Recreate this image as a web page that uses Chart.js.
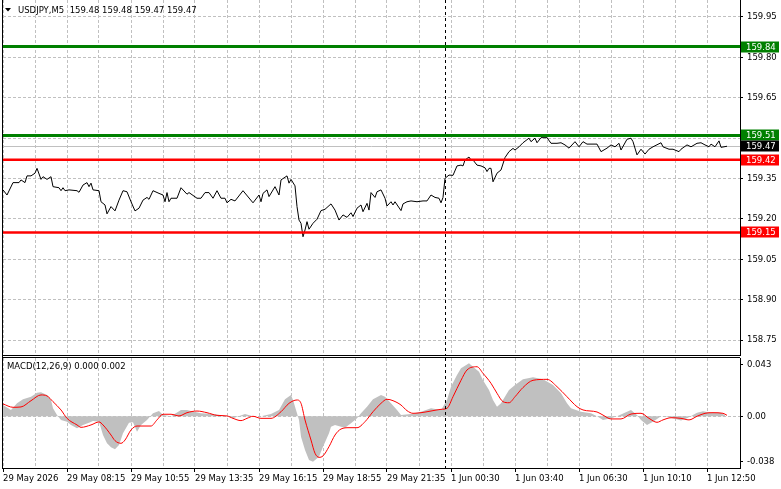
<!DOCTYPE html>
<html>
<head>
<meta charset="utf-8">
<script src="https://cdn.jsdelivr.net/npm/chart.js@4.4.1/dist/chart.umd.min.js"></script>
<style>
  html, body { margin: 0; padding: 0; background: #fff; }
  #wrap { position: relative; width: 781px; height: 489px; overflow: hidden; }
  #priceBox { position: absolute; left: 0; top: 0; width: 781px; height: 356px; }
  #macdBox { position: absolute; left: 0; top: 356px; width: 781px; height: 133px; }
</style>
</head>
<body>
<div id="wrap">
  <div id="priceBox"><canvas id="priceChart"></canvas></div>
  <div id="macdBox"><canvas id="macdChart"></canvas></div>
</div>
<script>
// USDJPY M5 closes, indexed by bar number from the left edge
const priceBars = [0,2,5,8,9,11,12,14,16,17,19,20,22,24,25,28,29,30,31,33,37,38,40,42,43,44,45,48,49,51,52,54,56,58,60,62,64,66,68,70,72,73,75,78,80,81,82,83,84,87,89,92,93,97,99,101,103,105,107,109,111,112,114,116,120,125,128,129,130,132,133,136,138,139,142,143,144,146,147,148,149,150,151,152,153,155,157,159,161,164,166,168,170,172,174,175,177,179,180,182,183,184,186,187,189,191,192,194,195,196,199,200,202,204,207,210,212,214,216,218,219,220,221,222,223,225,227,229,230,231,233,234,235,237,239,241,242,243,244,245,247,249,251,253,255,256,258,260,263,264,266,267,269,272,274,277,279,281,283,286,288,290,292,294,297,299,302,304,306,308,309,312,314,315,317,319,321,323,325,329,330,333,335,338,339,342,344,347,349,351,353,354,356,358,359,362];
const priceValues = [159.308,159.289,159.335,159.335,159.345,159.335,159.360,159.360,159.370,159.388,159.347,159.357,159.347,159.357,159.320,159.316,159.305,159.316,159.305,159.308,159.305,159.299,159.326,159.335,159.320,159.333,159.308,159.305,159.264,159.252,159.219,159.246,159.230,159.270,159.305,159.301,159.264,159.230,159.240,159.270,159.280,159.273,159.305,159.295,159.289,159.264,159.298,159.264,159.277,159.277,159.316,159.292,159.298,159.277,159.277,159.298,159.298,159.277,159.305,159.277,159.277,159.260,159.273,159.267,159.305,159.260,159.289,159.264,159.295,159.308,159.283,159.320,159.289,159.345,159.360,159.333,159.347,159.323,159.246,159.196,159.184,159.134,159.159,159.190,159.162,159.184,159.199,159.231,159.236,159.256,159.233,159.196,159.215,159.206,159.223,159.209,159.240,159.252,159.227,159.258,159.233,159.298,159.280,159.301,159.308,159.277,159.248,159.264,159.252,159.264,159.231,159.256,159.264,159.267,159.264,159.267,159.267,159.289,159.280,159.277,159.260,159.280,159.351,159.357,159.363,159.362,159.397,159.400,159.397,159.419,159.430,159.419,159.419,159.400,159.397,159.390,159.376,159.388,159.388,159.338,159.370,159.382,159.428,159.450,159.462,159.456,159.468,159.483,159.500,159.487,159.500,159.483,159.502,159.502,159.481,159.481,159.483,159.475,159.463,159.487,159.468,159.487,159.478,159.478,159.478,159.450,159.463,159.475,159.468,159.481,159.456,159.496,159.500,159.487,159.438,159.459,159.441,159.459,159.468,159.483,159.468,159.459,159.459,159.450,159.459,159.475,159.468,159.481,159.483,159.475,159.468,159.478,159.468,159.490,159.466,159.470];

const bidPrice = 159.47;
const levelPrices = [159.84, 159.51, 159.42, 159.15];
const levelColors = ['#008000', '#008000', '#ff0000', '#ff0000'];
const priceTicks = [158.75, 158.90, 159.05, 159.20, 159.35, 159.50, 159.65, 159.80, 159.95];

// MACD(12,26,9): histogram = main line, red = signal
const histBars = [0,4,7,10,14,17,19,22,24,25,27,29,32,34,37,40,43,45,48,50,52,54,56,58,60,63,65,67,69,72,75,78,80,84,89,92,95,99,105,112,115,121,125,129,134,138,141,144,145,147,148,149,151,153,155,158,160,163,164,166,169,171,174,177,179,182,185,189,191,194,197,199,204,209,214,219,222,224,227,229,233,235,238,240,243,245,247,249,253,256,260,265,270,275,279,282,284,289,294,297,300,304,307,312,314,317,319,322,325,329,332,335,339,342,347,350,354,359,361];
const histValues = [0.0094,0.0053,0.0108,0.0142,0.0163,0.0197,0.0200,0.0178,0.0136,0.0067,0.0010,-0.0030,-0.0045,-0.0072,-0.0100,-0.0072,-0.0053,-0.0040,-0.0045,-0.0156,-0.0225,-0.0258,-0.0275,-0.0240,-0.0142,-0.0053,-0.0050,-0.0128,-0.0072,-0.0030,0.0025,0.0044,0.0010,0.0000,0.0053,0.0053,0.0039,0.0025,0.0020,0.0000,-0.0017,0.0020,0.0000,0.0000,0.0020,0.0053,0.0142,0.0178,0.0136,0.0025,-0.0030,-0.0170,-0.0280,-0.0364,-0.0378,-0.0337,-0.0253,-0.0142,-0.0087,-0.0072,-0.0087,-0.0095,-0.0058,-0.0017,0.0025,0.0080,0.0142,0.0178,0.0163,0.0108,0.0053,0.0010,0.0020,0.0038,0.0067,0.0053,0.0136,0.0247,0.0344,0.0400,0.0442,0.0413,0.0372,0.0300,0.0219,0.0136,0.0080,0.0108,0.0219,0.0260,0.0308,0.0325,0.0308,0.0260,0.0192,0.0108,0.0067,0.0038,0.0025,0.0000,-0.0030,-0.0017,0.0000,0.0038,0.0053,0.0010,-0.0030,-0.0072,-0.0045,0.0000,-0.0003,-0.0017,-0.0036,-0.0017,0.0030,0.0042,0.0030,0.0030,0.0008];
const signalBars = [0,5,9,14,19,22,25,29,32,37,39,44,48,50,54,56,59,61,64,67,74,77,80,84,88,92,97,102,107,112,115,119,122,125,129,134,139,143,147,149,151,154,156,158,160,163,166,169,173,177,181,185,189,192,195,199,202,205,209,214,219,222,225,229,232,237,240,244,247,250,253,256,260,265,272,277,282,287,290,297,300,304,309,314,319,323,327,330,334,339,343,347,351,355,360,362];
const signalValues = [0.0103,0.0075,0.0078,0.0130,0.0178,0.0170,0.0122,0.0053,-0.0017,-0.0072,-0.0092,-0.0072,-0.0047,-0.0072,-0.0156,-0.0203,-0.0225,-0.0198,-0.0114,-0.0081,-0.0081,-0.0030,0.0017,0.0017,0.0003,0.0030,0.0044,0.0030,0.0008,0.0003,-0.0017,-0.0036,-0.0017,0.0000,-0.0017,-0.0017,0.0038,0.0108,0.0136,0.0108,-0.0030,-0.0198,-0.0308,-0.0342,-0.0330,-0.0253,-0.0156,-0.0106,-0.0095,-0.0095,-0.0045,0.0038,0.0108,0.0142,0.0130,0.0094,0.0047,0.0025,0.0030,0.0044,0.0058,0.0067,0.0163,0.0300,0.0386,0.0413,0.0358,0.0275,0.0192,0.0122,0.0113,0.0163,0.0240,0.0300,0.0308,0.0247,0.0163,0.0080,0.0053,0.0036,0.0010,-0.0022,-0.0022,0.0019,0.0025,-0.0017,-0.0050,-0.0030,-0.0012,-0.0017,-0.0030,0.0000,0.0025,0.0030,0.0025,0.0008];
const macdTicks = [-0.038, 0, 0.043];
const macdTickLabels = ['-0.038', '0.00', '0.043'];

// time axis: one label every 32 bars
const timeLabels = ['29 May 2026', '29 May 08:15', '29 May 10:55', '29 May 13:35', '29 May 16:15', '29 May 18:55', '29 May 21:35', '1 Jun 00:30', '1 Jun 03:40', '1 Jun 06:30', '1 Jun 10:10', '1 Jun 12:50'];
const separatorBar = 221;   // 1 Jun day separator
const lastBar = 368.5;      // right edge of the plot, in bars

const FAMILY = '"DejaVu Sans", Verdana, sans-serif';
const FONT_SIZE = 8.5;
const FONT = FONT_SIZE + 'px ' + FAMILY;

const gridBars = [];
for (let b = 0; b < 368; b += 16) gridBars.push(b);

function toPoints(bars, values) {
    return bars.map((b, i) => ({ x: b, y: values[i] }));
}

function xScale(showLabels) {
    return {
        type: 'linear',
        min: 0,
        max: lastBar,
        afterBuildTicks: s => { s.ticks = gridBars.map(v => ({ value: v })); },
        afterFit: s => {
            s.height = showLabels ? 21 : 0;
            s.paddingLeft = 0;
            s.paddingRight = 0;
        },
        border: { display: showLabels, color: '#000', width: 1, dash: [3, 2] },
        grid: {
            color: '#c0c0c0',
            lineWidth: 1,
            drawTicks: showLabels,
            tickLength: 4,
            tickBorderDash: [],
            tickColor: ctx => (ctx.tick && ctx.tick.value % 32 === 0) ? '#000' : 'rgba(0,0,0,0)'
        },
        ticks: {
            display: showLabels,
            autoSkip: false,
            maxRotation: 0,
            minRotation: 0,
            align: 'start',
            padding: 2,
            color: '#000',
            font: { family: FAMILY, size: FONT_SIZE },
            callback: v => v % 32 === 0 ? timeLabels[v / 32] : ''
        }
    };
}

function hLine(ctx, x1, x2, y, color, width, dash) {
    ctx.save();
    ctx.strokeStyle = color;
    ctx.lineWidth = width;
    ctx.setLineDash(dash || []);
    ctx.beginPath();
    ctx.moveTo(x1, y);
    ctx.lineTo(x2, y);
    ctx.stroke();
    ctx.restore();
}

function vLine(ctx, x, y1, y2, color, width, dash) {
    ctx.save();
    ctx.strokeStyle = color;
    ctx.lineWidth = width;
    ctx.setLineDash(dash || []);
    ctx.beginPath();
    ctx.moveTo(x, y1);
    ctx.lineTo(x, y2);
    ctx.stroke();
    ctx.restore();
}

function priceBox(ctx, area, y, value, fill) {
    ctx.save();
    ctx.fillStyle = fill;
    ctx.fillRect(area.right + 1, Math.round(y) - 5.5, 38, 11);
    ctx.fillStyle = '#fff';
    ctx.font = FONT;
    ctx.textBaseline = 'middle';
    ctx.textAlign = 'left';
    ctx.fillText(value.toFixed(2), area.right + 6, Math.round(y) + 0.5);
    ctx.restore();
}

const pricePlugin = {
    id: 'pricePlugin',
    beforeDatasetsDraw(chart) {
        const { ctx, chartArea: a, scales: { x, y } } = chart;
        const by = Math.round(y.getPixelForValue(bidPrice)) + 0.5;
        hLine(ctx, a.left, a.right, by, '#c0c0c0', 1);
        const sx = Math.round(x.getPixelForValue(separatorBar)) + 0.5;
        vLine(ctx, sx, a.top, a.bottom, '#000', 1, [3, 3]);
    },
    afterDatasetsDraw(chart) {
        const { ctx, chartArea: a, scales: { y } } = chart;
        levelPrices.forEach((p, i) => {
            const ly = y.getPixelForValue(p);
            hLine(ctx, a.left, a.right, ly, levelColors[i], i < 2 ? 3 : 2.5);
        });
    },
    afterDraw(chart) {
        const { ctx, chartArea: a, scales: { y } } = chart;
        // frame: left edge and bottom edge of the main window
        vLine(ctx, a.left - 0.5, 0, a.bottom + 1, '#000', 1);
        hLine(ctx, a.left - 1, a.right, a.bottom + 0.5, '#000', 1);

        levelPrices.forEach((p, i) => priceBox(ctx, a, y.getPixelForValue(p), p, levelColors[i]));
        priceBox(ctx, a, y.getPixelForValue(bidPrice), bidPrice, '#000');

        // symbol caption
        ctx.save();
        ctx.fillStyle = '#000';
        ctx.beginPath();
        ctx.moveTo(5, 8);
        ctx.lineTo(11, 8);
        ctx.lineTo(8, 11.5);
        ctx.closePath();
        ctx.fill();
        ctx.font = FONT;
        ctx.textBaseline = 'middle';
        ctx.fillText('USDJPY,M5  159.48 159.48 159.47 159.47', 18, 10.5);
        ctx.restore();
    }
};

const macdPlugin = {
    id: 'macdPlugin',
    beforeDatasetsDraw(chart) {
        const { ctx, chartArea: a, scales: { y } } = chart;
        const zy = Math.round(y.getPixelForValue(0)) + 0.5;
        hLine(ctx, a.left, a.right, zy, '#c0c0c0', 1, [3, 2]);
    },
    afterDatasetsDraw(chart) {
        const { ctx, chartArea: a, scales: { x } } = chart;
        const sx = Math.round(x.getPixelForValue(separatorBar)) + 0.5;
        vLine(ctx, sx, a.top, a.bottom, '#000', 1, [3, 3]);
    },
    afterDraw(chart) {
        const { ctx, chartArea: a } = chart;
        vLine(ctx, a.left - 0.5, 0, a.bottom + 1, '#000', 1);
        hLine(ctx, a.left - 1, a.right, a.top - 0.5, '#000', 1);
        ctx.save();
        ctx.font = FONT;
        ctx.textBaseline = 'middle';
        ctx.fillStyle = '#000';
        ctx.fillText('MACD(12,26,9) 0.000 0.002', 7, 10.5);
        ctx.restore();
    }
};

const baseOptions = {
    responsive: true,
    maintainAspectRatio: false,
    animation: false,
    devicePixelRatio: 1,
    events: [],
    plugins: {
        legend: { display: false },
        tooltip: { enabled: false }
    }
};

new Chart(document.getElementById('priceChart').getContext('2d'), {
    type: 'line',
    data: {
        datasets: [{
            data: toPoints(priceBars, priceValues),
            borderColor: '#000',
            borderWidth: 1,
            pointRadius: 0,
            tension: 0,
            fill: false
        }]
    },
    options: Object.assign({}, baseOptions, {
        layout: { padding: { left: 3, top: 0, right: 0, bottom: 1 } },
        scales: {
            x: xScale(false),
            y: {
                position: 'right',
                min: 158.6949,
                max: 160.0131,
                afterBuildTicks: s => { s.ticks = priceTicks.map(v => ({ value: v })); },
                afterFit: s => { s.width = 41; s.paddingTop = 0; s.paddingBottom = 0; },
                border: { display: true, color: '#000', width: 1, dash: [3, 2] },
                grid: { color: '#c0c0c0', drawTicks: true, tickLength: 3, tickColor: '#000', tickBorderDash: [] },
                ticks: {
                    padding: 4,
                    color: '#000',
                    font: { family: FAMILY, size: FONT_SIZE },
                    callback: v => v.toFixed(2)
                }
            }
        }
    }),
    plugins: [pricePlugin]
});

new Chart(document.getElementById('macdChart').getContext('2d'), {
    type: 'line',
    data: {
        datasets: [
            {
                label: 'Signal',
                data: toPoints(signalBars, signalValues),
                borderColor: '#ff0000',
                borderWidth: 1,
                pointRadius: 0,
                cubicInterpolationMode: 'monotone',
                fill: false,
                order: 0
            },
            {
                label: 'MACD',
                data: toPoints(histBars, histValues),
                borderColor: 'rgba(0,0,0,0)',
                borderWidth: 0,
                backgroundColor: '#c0c0c0',
                pointRadius: 0,
                tension: 0,
                fill: 'origin',
                order: 1
            }
        ]
    },
    options: Object.assign({}, baseOptions, {
        layout: { padding: { left: 3, top: 2, right: 0, bottom: 0 } },
        scales: {
            x: xScale(true),
            y: {
                position: 'right',
                min: -0.04308,
                max: 0.04858,
                afterBuildTicks: s => { s.ticks = macdTicks.map(v => ({ value: v })); },
                afterFit: s => { s.width = 41; s.paddingTop = 0; s.paddingBottom = 0; },
                border: { display: true, color: '#000', width: 1 },
                grid: { drawOnChartArea: false, drawTicks: true, tickLength: 3, tickColor: '#000' },
                ticks: {
                    padding: 4,
                    color: '#000',
                    font: { family: FAMILY, size: FONT_SIZE },
                    callback: v => macdTickLabels[macdTicks.indexOf(v)]
                }
            }
        }
    }),
    plugins: [macdPlugin]
});
</script>
</body>
</html>
